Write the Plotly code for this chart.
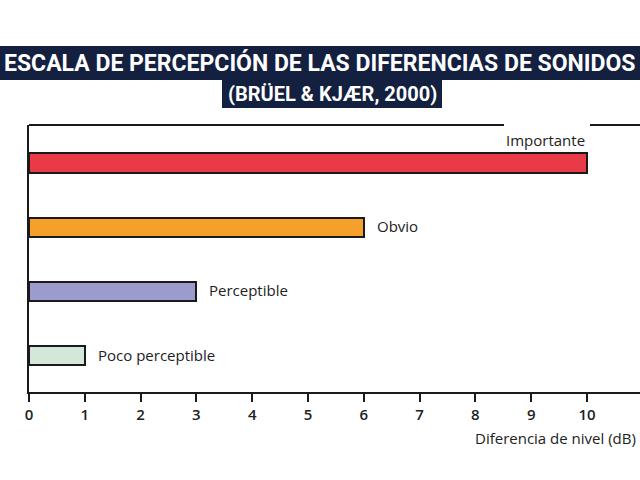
import plotly.graph_objects as go

categories = ["Poco perceptible", "Perceptible", "Obvio", "Importante"]
values = [1, 3, 6, 10]
colors = ["#D3E8D8", "#9B9CCD", "#F5A02B", "#EA3A48"]
x_ticks = list(range(0, 12))
title1 = "ESCALA DE PERCEPCIÓN DE LAS DIFERENCIAS DE SONIDOS"
title2 = "(BRÜEL & KJÆR, 2000)"
x_title = "Diferencia de nivel (dB)"

W, H = 640, 480
ML, MR, MT, MB = 29, 0, 125, 88
pw = W - ML - MR
ph = H - MT - MB

def px(x):
    return (x - ML) / pw

def py(y):
    return (H - MB - y) / ph

ypos = list(range(len(categories)))
lab_font = dict(family="Open Sans", size=15, color="#222222")

fig = go.Figure()
fig.add_trace(go.Bar(
    x=values, y=ypos, orientation="h", width=0.3,
    marker=dict(color=colors, line=dict(color="#1a1a1a", width=2)),
    hoverinfo="skip", showlegend=False,
))

annotations = []
for i, (c, v) in enumerate(zip(categories, values)):
    if c == "Importante":
        annotations.append(dict(x=v, y=i, text=c, showarrow=False, xanchor="right",
                                yanchor="bottom", yshift=11, font=lab_font))
    else:
        annotations.append(dict(x=v, y=i, text=c, showarrow=False, xanchor="left",
                                xshift=11, yshift=1, font=lab_font))

annotations.append(dict(xref="paper", yref="paper", x=px(638), y=py(438), text=x_title,
                        showarrow=False, xanchor="right", yanchor="middle", font=lab_font))
annotations.append(dict(xref="paper", yref="paper", x=px(320), y=py(63), text=title1,
                        showarrow=False, xanchor="center", yanchor="middle",
                        font=dict(family="Roboto", size=23, color="white", weight="bold")))
annotations.append(dict(xref="paper", yref="paper", x=px(332), y=py(94), text=title2,
                        showarrow=False, xanchor="center", yanchor="middle",
                        font=dict(family="Roboto", size=20, color="white", weight="bold")))

navy = "#13203F"
shapes = [
    dict(type="rect", xref="paper", yref="paper", x0=px(0), x1=px(640), y0=py(46), y1=py(80),
         fillcolor=navy, line=dict(width=0), layer="below"),
    dict(type="rect", xref="paper", yref="paper", x0=px(222), x1=px(442), y0=py(80), y1=py(108),
         fillcolor=navy, line=dict(width=0), layer="below"),
    dict(type="line", xref="paper", yref="paper", x0=0, x1=px(504), y0=1, y1=1,
         line=dict(color="#1a1a1a", width=2)),
    dict(type="line", xref="paper", yref="paper", x0=px(590), x1=px(640), y0=1, y1=1,
         line=dict(color="#1a1a1a", width=2)),
]

fig.update_layout(
    width=W, height=H,
    margin=dict(l=ML, r=MR, t=MT, b=MB),
    paper_bgcolor="white", plot_bgcolor="white",
    annotations=annotations, shapes=shapes,
    xaxis=dict(range=[0, 10.95], tickvals=x_ticks, ticktext=[str(t) for t in x_ticks],
               showgrid=False, zeroline=False, showline=True, linecolor="#1a1a1a", linewidth=2,
               ticks="outside", ticklen=8, tickwidth=1.5, tickcolor="#1a1a1a",
               tickfont=dict(family="Open Sans", size=15, color="#222222", weight=600)),
    yaxis=dict(range=[-0.566, 3.59], showticklabels=False, showgrid=False, zeroline=False,
               showline=True, linecolor="#1a1a1a", linewidth=2, ticks=""),
    bargap=0,
)

fig.write_html("out.html")
